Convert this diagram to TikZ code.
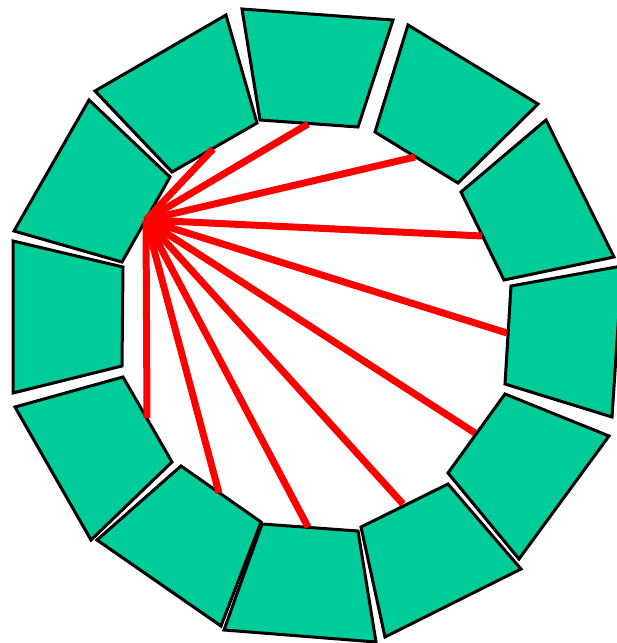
\documentclass[tikz,border=0pt]{standalone}
\definecolor{segGreen}{RGB}{0,204,153}
\begin{document}
\begin{tikzpicture}[x=1pt,y=-1pt,
  seg/.style={fill=segGreen,draw=black,line width=3pt,line join=miter},
  ray/.style={draw=red,line width=7pt}]
\useasboundingbox (0,0) rectangle (617,643);
% ring segments
\draw[seg] (242,9) -- (393,20) -- (358,127) -- (260,120) -- cycle;
\draw[seg] (408,25) -- (538,104) -- (458,183) -- (375,132) -- cycle;
\draw[seg] (546,120) -- (614,257) -- (504,280) -- (461,192) -- cycle;
\draw[seg] (511,286) -- (622,266) -- (612,417) -- (505,384) -- cycle;
\draw[seg] (505,394) -- (609,436) -- (519,559) -- (448,473) -- cycle;
\draw[seg] (448,484) -- (521,569) -- (385,637) -- (361,527) -- cycle;
\draw[seg] (262,524) -- (358,531) -- (376,642) -- (224,630) -- cycle;
\draw[seg] (181,466) -- (261,522) -- (221,626) -- (97,540) -- cycle;
\draw[seg] (15,407) -- (123,377) -- (172,462) -- (91,540) -- cycle;
\draw[seg] (13,241) -- (123,267) -- (122,366) -- (13,393) -- cycle;
\draw[seg] (89,100) -- (170,177) -- (122,262) -- (14,231) -- cycle;
\draw[seg] (95,91) -- (226,15) -- (257,123) -- (172,172) -- cycle;
% rays
\coordinate (o) at (146,220);
\coordinate (e1) at (213,149);
\coordinate (e2) at (308,124);
\coordinate (e3) at (415,157);
\coordinate (e4) at (482,236);
\coordinate (e5) at (507,333);
\coordinate (e6) at (475,433);
\coordinate (e7) at (403,504);
\coordinate (e8) at (308,527);
\coordinate (e9) at (219,493);
\coordinate (e10) at (147,418);
\foreach \e in {e1,e2,e3,e4,e5,e6,e7,e8,e9,e10}
  \draw[ray] (o) -- (\e);
\end{tikzpicture}
\end{document}
